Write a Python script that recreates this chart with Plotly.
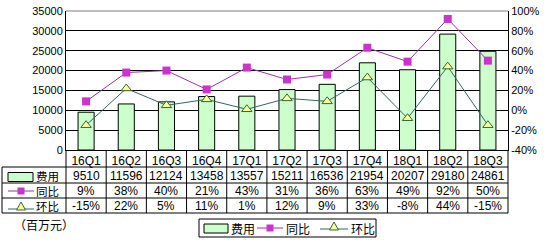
import plotly.graph_objects as go

categories = ["16Q1", "16Q2", "16Q3", "16Q4", "17Q1", "17Q2", "17Q3", "17Q4", "18Q1", "18Q2", "18Q3"]
cost = [9510, 11596, 12124, 13458, 13557, 15211, 16536, 21954, 20207, 29180, 24861]
yoy = [9, 38, 40, 21, 43, 31, 36, 63, 49, 92, 50]
qoq = [-15, 22, 5, 11, 1, 12, 9, 33, -8, 44, -15]
series_names = ["费用", "同比", "环比"]

left_ticks = [0, 5000, 10000, 15000, 20000, 25000, 30000, 35000]
left_labels = ["0", "5000", "10000", "15000", "20000", "25000", "30000", "35000"]
right_ticks = [-40, -20, 0, 20, 40, 60, 80, 100]
right_labels = ["-40%", "-20%", "0%", "20%", "40%", "60%", "80%", "100%"]

BAR_FILL = "#ccffcc"
YOY_LINE = "#9933aa"
YOY_MARK = "#cc33cc"
QOQ_LINE = "#336666"
QOQ_MARK = "#ffff99"
NUMFONT = "Liberation Sans, Arial, sans-serif"
CJK = "Noto Sans CJK SC"

fig = go.Figure()
fig.add_trace(go.Bar(x=categories, y=cost, name=series_names[0], width=0.4,
                     marker=dict(color=BAR_FILL, line=dict(color="#000000", width=1))))
fig.add_trace(go.Scatter(x=categories, y=yoy, name=series_names[1], yaxis="y2", mode="lines+markers",
                         line=dict(color=YOY_LINE, width=1),
                         marker=dict(symbol="square", size=8, color=YOY_MARK, line=dict(width=0))))
fig.add_trace(go.Scatter(x=categories, y=qoq, name=series_names[2], yaxis="y2", mode="lines+markers",
                         line=dict(color=QOQ_LINE, width=1),
                         marker=dict(symbol="triangle-up", size=9, color=QOQ_MARK,
                                     line=dict(color="#336633", width=1))))

H = 139.0
def py(p):
    return (150 - p) / H
def px(p):
    return (p - 66) / 442.0

def P(x0, y0, x1, y1, **kw):
    d = dict(xref="paper", yref="paper", x0=px(x0), x1=px(x1), y0=py(y0), y1=py(y1))
    d.update(kw)
    return d

BLACK = dict(color="#000000", width=1)
row_lines = [167, 183, 198, 213]
shapes = []
shapes.append(dict(type="line", xref="paper", yref="paper", x0=0, x1=1, y0=1, y1=1,
                   line=dict(color="#808080", width=1)))
for r in row_lines:
    shapes.append(P(2, r, 508, r, type="line", line=BLACK))
shapes.append(P(2, 167, 2, 213, type="line", line=BLACK))
shapes.append(dict(type="line", xref="paper", yref="paper", x0=0, x1=0, y0=0, y1=py(213), line=BLACK))
for i in range(1, len(categories)):
    shapes.append(dict(type="line", xref="x", yref="paper", x0=i - 0.5, x1=i - 0.5, y0=0, y1=py(213),
                       line=BLACK))
shapes.append(dict(type="line", xref="paper", yref="paper", x0=1, x1=1, y0=0, y1=py(213), line=BLACK))


def sym_bar(x0, x1, yc):
    return [P(x0, yc + 4.5, x1, yc - 4.5, type="rect", fillcolor=BAR_FILL, line=BLACK)]


def sym_yoy(x0, x1, yc):
    xm = (x0 + x1) / 2
    return [P(x0, yc, x1, yc, type="line", line=dict(color=YOY_LINE, width=1)),
            P(xm - 3.5, yc + 3.5, xm + 3.5, yc - 3.5, type="rect", fillcolor=YOY_MARK, line=dict(width=0))]


def sym_qoq(x0, x1, yc):
    xm = (x0 + x1) / 2
    return [P(x0, yc + 2, x1, yc + 2, type="line", line=dict(color=QOQ_LINE, width=1)),
            dict(type="path", xref="paper", yref="paper",
                 path=f"M {px(xm - 4.5)},{py(yc + 3)} L {px(xm)},{py(yc - 5)} L {px(xm + 4.5)},{py(yc + 3)} Z",
                 fillcolor=QOQ_MARK, line=dict(color="#336633", width=1))]


# row header symbols
shapes += sym_bar(8, 33, 177)
shapes += sym_yoy(8, 34, 191)
shapes += sym_qoq(8, 34, 207)

# manual legend box
shapes.append(P(199, 219, 376, 237, type="rect", fillcolor="rgba(0,0,0,0)", line=BLACK))
shapes += sym_bar(204, 228, 228.5)
shapes += sym_yoy(257, 283, 228)
shapes += sym_qoq(320, 348, 227)

annotations = []
# row header labels as one multi-line text (line spacing matches row height)
annotations.append(dict(text="<br>".join(series_names), xref="paper", yref="paper", x=px(35), y=py(190.5),
                        xanchor="left", yanchor="middle", align="left", showarrow=False, borderpad=0,
                        font=dict(family=CJK, size=11.5, color="#000")))
for label, x in zip(series_names, [229, 284, 349]):
    annotations.append(dict(text=label, xref="paper", yref="paper", x=px(x), y=py(228), xanchor="left",
                            yanchor="middle", showarrow=False, font=dict(family=CJK, size=12, color="#000")))
for c, v, a, b in zip(categories, cost, yoy, qoq):
    for txt, y in [(str(v), 175.5), (f"{a}%", 190.5), (f"{b}%", 205.5)]:
        annotations.append(dict(text=txt, xref="x", yref="paper", x=c, y=py(y), xanchor="center",
                                yanchor="middle", showarrow=False, borderpad=0,
                                font=dict(family=NUMFONT, size=12, color="#000")))
annotations.append(dict(text="（百万元）", xref="paper", yref="paper", x=px(12), y=py(224), xanchor="left",
                        yanchor="middle", showarrow=False, font=dict(family=CJK, size=12, color="#000")))

fig.update_layout(
    width=549, height=240,
    margin=dict(l=66, r=41, t=11, b=90, autoexpand=False),
    paper_bgcolor="white", plot_bgcolor="white",
    shapes=shapes, annotations=annotations,
    showlegend=False,
    xaxis=dict(type="category", showgrid=False, showline=True, linecolor="#000", linewidth=1,
               ticks="", tickfont=dict(family=NUMFONT, size=12, color="#000"), range=[-0.5, 10.5],
               automargin=False),
    yaxis=dict(range=[0, 35000], tickvals=left_ticks, ticktext=left_labels, showgrid=True,
               gridcolor="#000", gridwidth=1, automargin=False,
               showline=True, linecolor="#000", linewidth=1, zeroline=False,
               tickfont=dict(family=NUMFONT, size=11, color="#000")),
    yaxis2=dict(range=[-40, 100], tickvals=right_ticks, ticktext=right_labels, overlaying="y", side="right",
                showgrid=False, zeroline=False, showline=True, linecolor="#000", linewidth=1,
                automargin=False, tickfont=dict(family=NUMFONT, size=11, color="#000")),
)

fig.write_html("out.html")
